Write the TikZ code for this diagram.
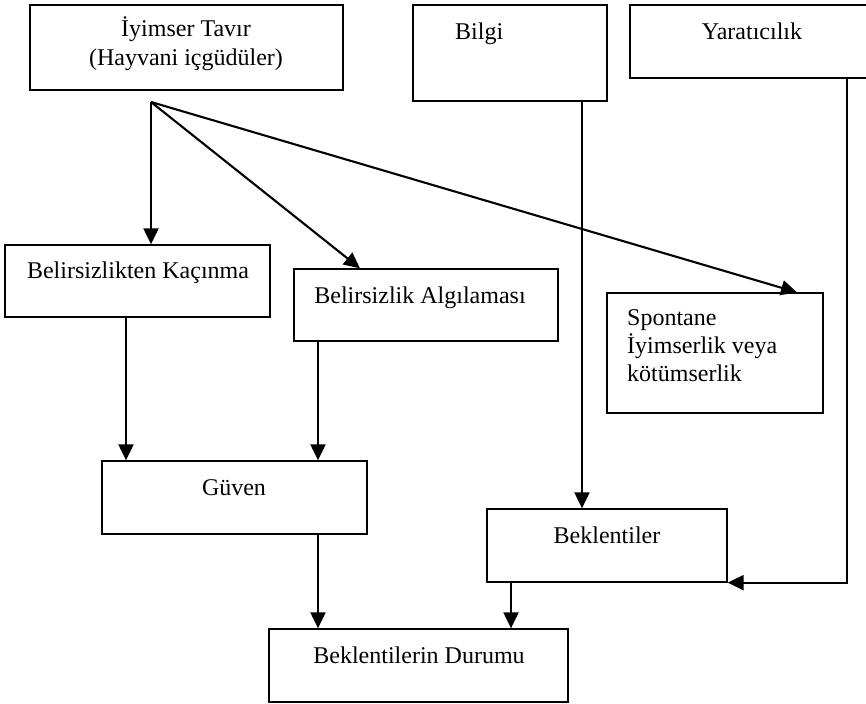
\documentclass[tikz,border=0pt]{standalone}
\usepackage{fontspec}
\setmainfont{Liberation Serif}
\usetikzlibrary{arrows.meta}

\begin{document}
\begin{tikzpicture}[
    x=1pt, y=-1pt,
    box/.style={draw, line width=1.3pt, inner sep=0pt},
    txt/.style={anchor=base, inner sep=0pt, font=\fontsize{24}{28}\selectfont},
    arr/.style={line width=2.1pt, -{Triangle[length=16pt, width=15pt]}}
]
\useasboundingbox[fill=white] (0,0) rectangle (866,703);

% Top row
\node[box, minimum width=313pt, minimum height=85pt] (iyimser) at (186.5,47.5) {};
\node[box, minimum width=194pt, minimum height=96pt] (bilgi) at (510,53) {};
\node[box, minimum width=240pt, minimum height=73pt] (yarat) at (750,41.5) {};

\node[txt, align=center, font=\fontsize{24}{29}\selectfont] (iyimser-t) at (186,66) {İyimser Tavır\\(Hayvani içgüdüler)};
\node[txt, anchor=base west] (bilgi-t) at (455,40) {Bilgi};
\node[txt] (yarat-t) at (752,40) {Yaratıcılık};

% Middle row
\node[box, minimum width=265pt, minimum height=72pt] (kacinma) at (137.5,281) {};
\node[box, minimum width=264pt, minimum height=72pt] (algi) at (426,305) {};
\node[box, minimum width=216pt, minimum height=120pt] (spontane) at (715,353) {};

\node[txt] (kacinma-t) at (138,278) {Belirsizlikten Kaçınma};
\node[txt] (algi-t) at (420,303) {Belirsizlik Algılaması};
\node[txt, anchor=base west, align=left] (spontane-t) at (627,381) {Spontane\\İyimserlik veya\\kötümserlik};

% Bottom rows
\node[box, minimum width=265pt, minimum height=73pt] (guven) at (234.5,497.5) {};
\node[box, minimum width=240pt, minimum height=73pt] (bekl) at (607,545.5) {};
\node[box, minimum width=299pt, minimum height=73pt] (durum) at (418.5,665.5) {};

\node[txt] (guven-t) at (234,495) {Güven};
\node[txt] (bekl-t) at (607,543) {Beklentiler};
\node[txt] (durum-t) at (419,663) {Beklentilerin Durumu};

% Columns of the connectors
\coordinate (fan) at (151,102);
\coordinate (c1) at (126,0);
\coordinate (c2) at (318,0);
\coordinate (c3) at (360,0);
\coordinate (c4) at (797,0);
\coordinate (c5) at (511,0);
\coordinate (c6) at (582,0);
\coordinate (c7) at (847,0);

\draw[arr] (fan) -- (fan |- kacinma.north);
\draw[arr] (fan) -- (c3 |- algi.north);
\draw[arr] (fan) -- (c4 |- spontane.north);

\draw[arr] (c1 |- kacinma.south) -- (c1 |- guven.north);
\draw[arr] (c2 |- algi.south) -- (c2 |- guven.north);
\draw[arr] (c2 |- guven.south) -- (c2 |- durum.north);

\draw[arr] (c6 |- bilgi.south) -- (c6 |- bekl.north);
\draw[arr] (c7 |- yarat.south) |- (bekl.south east);
\draw[arr] (c5 |- bekl.south) -- (c5 |- durum.north);

\end{tikzpicture}
\end{document}
